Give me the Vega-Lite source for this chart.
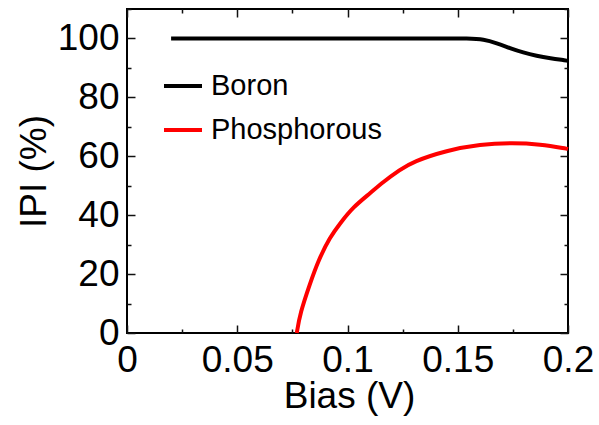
{
  "$schema": "https://vega.github.io/schema/vega-lite/v6.json",
  "width": 441,
  "height": 324,
  "autosize": "none",
  "padding": {"left": 127, "top": 9, "right": 31, "bottom": 92},
  "background": "white",
  "config": {
    "view": {"stroke": "black", "strokeWidth": 2},
    "font": "Liberation Sans",
    "axis": {
      "grid": false,
      "domain": false,
      "labelFont": "Liberation Sans",
      "titleFont": "Liberation Sans",
      "labelFontSize": 37,
      "titleFontSize": 37,
      "labelColor": "black",
      "titleColor": "black",
      "titleFontWeight": "normal",
      "labelOverlap": false,
      "labelFlush": false,
      "labelBound": false
    }
  },
  "data": {
    "values": [
      {"dopant": "Boron", "bias": 0.02, "ipi": 100},
      {"dopant": "Boron", "bias": 0.06, "ipi": 100},
      {"dopant": "Boron", "bias": 0.10, "ipi": 100},
      {"dopant": "Boron", "bias": 0.14, "ipi": 100},
      {"dopant": "Boron", "bias": 0.1556, "ipi": 100},
      {"dopant": "Boron", "bias": 0.1616, "ipi": 99.7},
      {"dopant": "Boron", "bias": 0.1677, "ipi": 98.4},
      {"dopant": "Boron", "bias": 0.1737, "ipi": 96.7},
      {"dopant": "Boron", "bias": 0.1797, "ipi": 95.2},
      {"dopant": "Boron", "bias": 0.1858, "ipi": 94.1},
      {"dopant": "Boron", "bias": 0.1918, "ipi": 93.3},
      {"dopant": "Boron", "bias": 0.1994, "ipi": 92.5},
      {"dopant": "Boron", "bias": 0.2, "ipi": 92.4},
      {"dopant": "Phosphorous", "bias": 0.077, "ipi": 0},
      {"dopant": "Phosphorous", "bias": 0.0785, "ipi": 6.7},
      {"dopant": "Phosphorous", "bias": 0.083, "ipi": 16.8},
      {"dopant": "Phosphorous", "bias": 0.0868, "ipi": 24.7},
      {"dopant": "Phosphorous", "bias": 0.0921, "ipi": 32.6},
      {"dopant": "Phosphorous", "bias": 0.0966, "ipi": 37.2},
      {"dopant": "Phosphorous", "bias": 0.1026, "ipi": 42.8},
      {"dopant": "Phosphorous", "bias": 0.1102, "ipi": 47.4},
      {"dopant": "Phosphorous", "bias": 0.1162, "ipi": 51.3},
      {"dopant": "Phosphorous", "bias": 0.1238, "ipi": 55.4},
      {"dopant": "Phosphorous", "bias": 0.1297, "ipi": 58.2},
      {"dopant": "Phosphorous", "bias": 0.145, "ipi": 62.0},
      {"dopant": "Phosphorous", "bias": 0.1601, "ipi": 64.1},
      {"dopant": "Phosphorous", "bias": 0.1751, "ipi": 64.6},
      {"dopant": "Phosphorous", "bias": 0.1873, "ipi": 64.1},
      {"dopant": "Phosphorous", "bias": 0.1994, "ipi": 62.6},
      {"dopant": "Phosphorous", "bias": 0.2, "ipi": 62.5}
    ]
  },
  "layer": [
    {
      "mark": {"type": "line", "strokeWidth": 4, "interpolate": "basis"},
      "encoding": {
        "x": {
          "field": "bias",
          "type": "quantitative",
          "scale": {"domain": [0, 0.2], "nice": false, "zero": false},
          "axis": {
            "orient": "bottom",
            "values": [0, 0.025, 0.05, 0.075, 0.1, 0.125, 0.15, 0.175, 0.2],
            "ticks": true,
            "tickSize": 8,
            "tickColor": "#111111",
            "tickWidth": 1.5,
            "offset": -8,
            "zindex": 1,
            "tickDash": {"condition": {"test": "round(datum.value*1000) % 50 == 0", "value": [8, 0]}, "value": [0, 4, 4, 100]},
            "labelExpr": "round(datum.value*1000) % 50 == 0 ? format(datum.value, '~g') : ''",
            "labelPadding": 9,
            "title": "Bias (V)",
            "titleX": 222,
            "titleY": 82,
            "titleBaseline": "alphabetic",
            "titleAlign": "center"
          }
        },
        "y": {
          "field": "ipi",
          "type": "quantitative",
          "scale": {"domain": [0, 110], "nice": false},
          "axis": {
            "orient": "left",
            "values": [0, 10, 20, 30, 40, 50, 60, 70, 80, 90, 100, 110],
            "ticks": true,
            "tickSize": 8,
            "tickColor": "#111111",
            "tickWidth": 1.5,
            "offset": -8,
            "zindex": 1,
            "tickDash": {"condition": {"test": "datum.value % 20 == 0", "value": [8, 0]}, "value": [0, 4, 4, 100]},
            "labelExpr": "datum.value % 20 == 0 && datum.value < 105 ? format(datum.value, 'd') : ''",
            "labelPadding": 8,
            "title": "IPI (%)",
            "titleX": -90,
            "titleY": 162,
            "titleBaseline": "alphabetic",
            "titleAlign": "center",
            "titleAngle": -90
          }
        },
        "color": {
          "field": "dopant",
          "type": "nominal",
          "scale": {"domain": ["Boron", "Phosphorous"], "range": ["black", "#ff0000"]},
          "legend": {
            "orient": "none",
            "legendX": 35,
            "legendY": 56,
            "title": null,
            "symbolType": "stroke",
            "symbolSize": 1444,
            "symbolStrokeWidth": 4,
            "labelFontSize": 29,
            "labelFont": "Liberation Sans",
            "labelColor": "black",
            "labelLimit": 0,
            "labelOffset": 7,
            "rowPadding": 8
          }
        }
      }
    },
    {
      "mark": {"type": "line", "strokeOpacity": 0},
      "encoding": {
        "x": {
          "field": "bias",
          "type": "quantitative",
          "axis": {
            "orient": "top",
            "values": [0, 0.025, 0.05, 0.075, 0.1, 0.125, 0.15, 0.175, 0.2],
            "ticks": true,
            "tickSize": 8,
            "tickColor": "#111111",
            "tickWidth": 1.5,
            "offset": -8,
            "zindex": 1,
            "tickDash": {"condition": {"test": "round(datum.value*1000) % 50 == 0", "value": [8, 0]}, "value": [0, 4, 4, 100]},
            "labels": false,
            "title": null
          }
        },
        "y": {
          "field": "ipi",
          "type": "quantitative",
          "axis": {
            "orient": "right",
            "values": [0, 10, 20, 30, 40, 50, 60, 70, 80, 90, 100, 110],
            "ticks": true,
            "tickSize": 8,
            "tickColor": "#111111",
            "tickWidth": 1.5,
            "offset": -8,
            "zindex": 1,
            "tickDash": {"condition": {"test": "datum.value % 20 == 0", "value": [8, 0]}, "value": [0, 4, 4, 100]},
            "labels": false,
            "title": null
          }
        },
        "detail": {"field": "dopant", "type": "nominal"}
      }
    }
  ],
  "resolve": {"axis": {"x": "independent", "y": "independent"}}
}
